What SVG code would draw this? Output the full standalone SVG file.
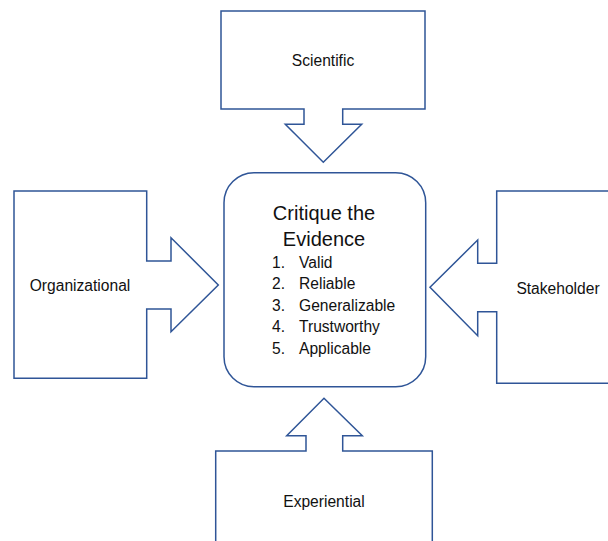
<svg xmlns="http://www.w3.org/2000/svg" width="608" height="541" viewBox="0 0 608 541">
  <style>
    .shape { fill: #ffffff; stroke: #2f5597; stroke-width: 1.5; stroke-linejoin: miter; }
    .label { font-family: "Liberation Sans", Arial, sans-serif; font-size: 15.6px; fill: #111111; }
    .title { font-family: "Liberation Sans", Arial, sans-serif; font-size: 20px; fill: #111111; text-anchor: middle; }
  </style>
  <rect width="608" height="541" fill="#ffffff"/>

  <!-- Block arrows pointing at the central box -->
  <g id="connectors">
    <g id="scientific">
      <path class="shape" d="M221,11 H425 V109 H342.7 V124.3 H361.7 L323.3,162.3 L285.3,124.3 H304 V109 H221 Z"/>
      <text class="label" x="323" y="66" text-anchor="middle">Scientific</text>
    </g>
    <g id="organizational">
      <path class="shape" d="M14,191 H146.7 V261 H171 V237.7 L218.3,285 L171,331.7 V309 H146.7 V378.3 H14 Z"/>
      <text class="label" x="80" y="291" text-anchor="middle">Organizational</text>
    </g>
    <g id="stakeholder">
      <path class="shape" d="M620,191 H496.7 V263.3 H477.7 V240 L430,287.3 L477.7,335.7 V311.7 H496.7 V383.3 H620"/>
      <text class="label" x="558" y="293.5" text-anchor="middle">Stakeholder</text>
    </g>
    <g id="experiential">
      <path class="shape" d="M215.7,560 V451 H306 V435.7 H286.7 L324,398.3 L362.3,435.7 H342.7 V451 H432.3 V560"/>
      <text class="label" x="324" y="506.5" text-anchor="middle">Experiential</text>
    </g>
  </g>

  <!-- Central box -->
  <g id="critique">
    <rect class="shape" x="224" y="172.7" width="201.7" height="214" rx="30" ry="30"/>
    <text class="title" x="324" y="220">Critique the</text>
    <text class="title" x="324" y="246">Evidence</text>
    <g class="label">
      <text x="272" y="267.5">1.</text><text x="299" y="267.5">Valid</text>
      <text x="272" y="289">2.</text><text x="299" y="289">Reliable</text>
      <text x="272" y="310.5">3.</text><text x="299" y="310.5">Generalizable</text>
      <text x="272" y="332">4.</text><text x="299" y="332">Trustworthy</text>
      <text x="272" y="353.5">5.</text><text x="299" y="353.5">Applicable</text>
    </g>
  </g>
</svg>
